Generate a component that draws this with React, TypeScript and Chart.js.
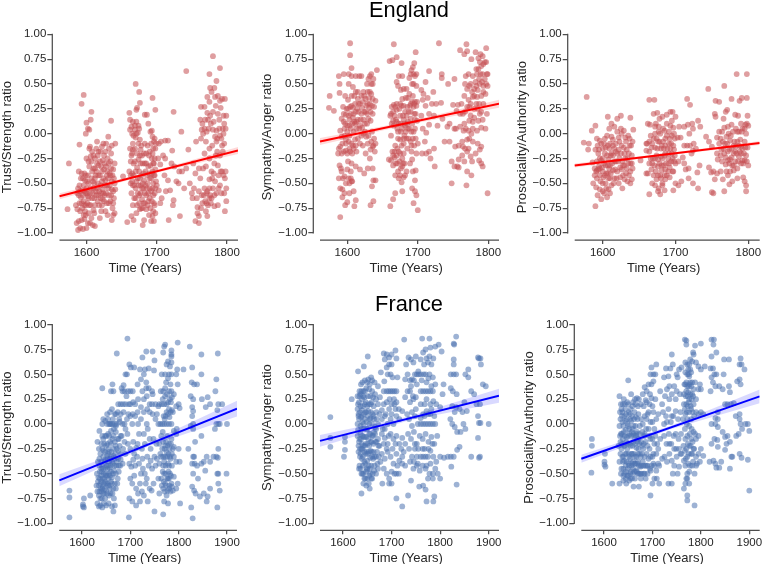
import React, { useEffect, useRef } from "react";
import { Chart, registerables } from "chart.js";
Chart.register(...registerables);

type P = [number, number];

const yTickValues = [-1, -0.75, -0.5, -0.25, 0, 0.25, 0.5, 0.75, 1];
const englandYearTicks = [1600, 1700, 1800];
const franceYearTicks = [1600, 1700, 1800, 1900];

const englandTrust: P[] = [
[1575,-.3],[1593,.3],[1596,.39],[1600,.11],[1599,0],[1602,.05],[1604,.04],[1607,.22],[1606,.14],[1590,-.11],[1635,.13],[1631,-.03],[1615,-.08],[1573,-.76],
[1586,-.9],[1588,-.97],[1589,-.88],[1591,-.95],[1593,-.87],[1595,-.96],[1597,-.86],[1600,-.95],[1598,-.78],[1585,-.72],[1587,-.76],[1590,-.7],[1592,-.64],[1594,-.75],[1596,-.68],[1599,-.6],[1601,-.7],[1603,-.8],[1605,-.9],[1607,-.85],[1609,-.92],[1612,-.93],[1610,-.77],[1588,-.55],[1590,-.52],[1592,-.45],[1589,-.38],[1593,-.4],[1596,-.52],[1598,-.47],[1600,-.55],[1602,-.42],[1604,-.33],[1606,-.23],[1605,-.13],[1607,-.28],[1603,-.5],[1605,-.6],[1608,-.65],[1610,-.55],[1612,-.45],[1610,-.35],[1612,-.25],[1614,-.15],[1616,-.22],[1614,-.38],[1616,-.5],[1614,-.62],[1612,-.72],[1616,-.68],[1618,-.58],[1619,-.42],[1621,-.33],[1620,-.18],[1624,-.1],[1623,-.27],[1622,-.48],[1620,-.65],[1619,-.85],[1621,-.78],[1624,-.6],[1626,-.52],[1625,-.36],[1627,-.18],[1628,-.1],[1630,-.25],[1629,-.42],[1628,-.6],[1627,-.78],[1630,-.82],[1632,-.7],[1631,-.55],[1633,-.4],[1632,-.15],[1634,-.28],[1636,-.12],[1636,-.48],[1635,-.62],[1637,-.75],[1636,-.87],[1638,-.82],[1640,-.8],[1639,-.65],[1640,-.5],[1638,-.36],[1640,-.3],[1641,-.1],[1641,-.56],[1600,-.25],[1604,-.15],[1602,-.63],[1606,-.72],[1609,-.48],[1597,-.58],[1594,-.57],[1617,-.32],[1622,-.72],[1625,-.68],
[1652,-.43],[1658,-.89],[1664,-.83],[1667,-.87],[1680,-.92],[1682,-.87],[1692,-.88],[1689,-.82],[1661,.21],[1670,.5],[1675,.42],[1676,.31],[1672,.26],[1671,.24],[1694,.36],[1698,.24],[1683,.19],[1686,.19],
[1662,.14],[1664,.07],[1666,.12],[1669,.04],[1671,.12],[1674,.08],[1662,.04],[1665,.0],[1667,-.02],[1670,-.04],[1673,.01],[1676,-.06],[1662,-.15],[1664,-.22],[1663,-.28],[1661,-.38],[1665,-.4],[1667,-.3],[1669,-.15],[1672,-.2],[1674,-.1],[1677,-.16],[1679,-.22],[1677,-.3],[1675,-.38],[1673,-.45],[1670,-.38],[1666,-.52],[1664,-.6],[1663,-.5],[1668,-.65],[1670,-.55],[1672,-.72],[1675,-.62],[1677,-.52],[1680,-.5],[1678,-.75],[1681,-.7],[1683,-.6],[1681,-.4],[1683,-.3],[1685,-.2],[1683,-.1],[1688,.1],[1691,.02],[1694,-.03],[1696,-.08],[1695,-.15],[1693,-.25],[1696,-.3],[1694,-.38],[1697,-.42],[1695,-.5],[1692,-.58],[1690,-.45],[1688,-.33],[1687,-.12],[1690,-.18],[1686,-.55],[1688,-.68],[1691,-.75],[1695,-.78],[1697,-.72],[1695,-.62],[1698,-.55],[1694,-.83],[1696,-.88],[1698,-.15],[1697,-.05],[1699,-.1],[1676,-.76],[1671,-.8],[1666,-.72],[1685,-.76],
[1703,-.1],[1702,-.25],[1705,-.31],[1700,-.52],[1703,-.57],[1707,-.65],[1709,-.22],[1712,-.25],[1706,-.08],[1712,-.07],[1716,-.07],[1705,-.7],[1713,-.58],[1717,-.87],[1719,-.57],[1711,-.42],[1716,-.47],[1722,-.17],[1721,-.3],[1725,-.33],[1724,-.67],[1723,-.72],[1728,-.48],[1732,-.38],[1731,-.5],[1733,-.83],[1739,-.55],[1742,-.35],[1736,-.38],[1724,.22],[1742,.63],[1735,.02],[1745,-.16],[1747,-.5],[1750,-.6],[1753,-.55],[1751,-.65],[1755,-.4],[1752,-.3],[1756,-.08],[1757,-.65],[1760,-.35],
[1780,.78],[1790,.66],[1775,.6],[1785,.53],[1782,.46],[1778,.42],[1776,.46],[1772,.37],[1775,.32],[1768,.27],[1772,.21],[1763,.27],[1762,.14],[1765,.1],[1768,.05],[1771,.02],[1773,.14],[1776,.18],[1780,.22],[1783,.37],[1787,.38],[1790,.33],[1793,.35],[1797,.35],[1791,.26],[1795,.18],[1799,.18],[1798,.05],[1795,0],[1792,-.05],[1796,-.1],[1798,-.38],[1794,-.18],[1790,-.02],[1785,.03],[1783,-.03],[1780,.04],[1777,.1],[1763,-.05],[1766,0],[1770,-.08],[1775,-.15],[1779,-.12],[1785,-.08],[1786,-.18],[1782,-.3],[1778,-.38],[1775,-.46],[1770,-.33],[1766,-.35],[1762,-.45],[1760,-.58],[1764,-.62],[1768,-.55],[1772,-.58],[1775,-.65],[1777,-.7],[1780,-.55],[1783,-.48],[1785,-.6],[1788,-.42],[1790,-.52],[1793,-.38],[1797,-.45],[1799,-.55],[1796,-.6],[1799,-.68],[1797,-.78],[1787,-.72],[1782,-.73],[1770,-.78],[1758,-.74],[1758,-.8],[1760,-.83],[1763,-.75],[1755,-.88],[1760,-.9],[1772,-.83],[1790,-.22],[1793,-.12],[1775,-.25],[1768,-.2],[1771,-.6],
];
const englandTrustDense: P[] = [
[1587,-.6],[1589,-.62],[1591,-.58],[1593,-.7],[1595,-.62],[1597,-.72],[1599,-.82],[1601,-.6],[1603,-.65],[1604,-.72],[1606,-.55],[1607,-.45],[1608,-.38],[1609,-.6],[1611,-.65],[1611,-.5],[1613,-.58],[1613,-.42],[1615,-.55],[1615,-.3],[1617,-.62],[1617,-.42],[1618,-.72],[1619,-.28],[1620,-.52],[1621,-.6],[1622,-.38],[1623,-.56],[1623,-.66],[1624,-.45],[1625,-.22],[1626,-.3],[1626,-.62],[1627,-.47],[1628,-.33],[1629,-.52],[1629,-.7],[1630,-.38],[1631,-.45],[1632,-.3],[1632,-.62],[1633,-.52],[1634,-.42],[1634,-.68],[1635,-.35],[1635,-.2],[1636,-.56],[1637,-.42],[1638,-.58],[1638,-.7],[1639,-.45],[1599,-.42],[1601,-.48],[1595,-.45],[1591,-.78],[1597,-.4],[1603,-.28],[1608,-.18],[1610,-.22],[1612,-.35],[1599,-.72],[1596,-.82],[1602,-.9],[1611,-.8],[1617,-.18],[1622,-.13],
[1663,-.42],[1665,-.48],[1665,-.2],[1666,-.1],[1667,-.42],[1668,-.52],[1669,-.28],[1670,-.65],[1671,-.48],[1672,-.34],[1673,-.6],[1674,-.52],[1674,-.26],[1675,-.7],[1676,-.45],[1676,-.22],[1677,-.6],[1678,-.42],[1678,-.12],[1679,-.55],[1679,-.66],[1680,-.3],[1680,-.75],[1681,-.55],[1682,-.47],[1682,-.2],[1683,-.7],[1684,-.38],[1684,-.52],[1685,-.62],[1685,-.3],[1686,-.42],[1687,-.5],[1687,-.72],[1688,-.6],[1689,-.4],[1689,-.22],[1690,-.55],[1690,-.65],[1691,-.32],[1692,-.45],[1692,-.1],[1693,-.4],[1693,-.68],[1694,-.55],[1694,-.2],[1695,-.3],[1696,-.42],[1696,-.7],[1697,-.25],[1697,-.6],[1698,-.8],[1698,-.36],[1699,-.48],[1669,.08],[1666,-.16],[1671,.0],[1675,.05],[1693,.03],
[1765,-.7],[1767,-.62],[1769,-.68],[1771,-.7],[1773,-.72],[1775,-.55],[1776,-.62],[1778,-.65],[1779,-.45],[1781,-.4],[1782,-.62],[1784,-.22],[1786,-.05],[1787,-.32],[1788,-.55],[1789,.05],[1791,-.38],[1792,-.6],[1794,.05],[1795,-.42],[1796,.1],[1784,.28],[1787,.2],[1789,.14],[1781,.12],[1774,.05],[1769,.14],[1764,.04],
];

const englandSympathy: P[] = [
[1575,.38],[1574,.26],[1581,.23],[1604,.91],[1604,.79],[1606,.66],[1590,-.84],[1597,-.72],[1600,-.69],[1610,-.73],[1612,-.67],[1633,-.72],[1637,-.68],[1642,.64],[1640,-.47],[1636,-.35],
[1588,.58],[1589,.5],[1595,.6],[1589,.41],[1597,.38],[1594,.27],[1602,.5],[1602,.6],[1606,.58],[1608,.47],[1612,.58],[1617,.58],[1610,.38],[1606,.28],[1601,.25],[1598,.19],[1592,.15],[1590,.03],[1596,.05],[1603,.14],[1608,.16],[1612,.22],[1616,.3],[1620,.38],[1615,.42],[1620,.58],[1624,.38],[1628,.5],[1632,.58],[1634,.6],[1636,.5],[1632,.42],[1629,.3],[1626,.22],[1623,.14],[1618,.08],[1613,.05],[1609,.02],[1603,-.02],[1598,-.06],[1593,-.1],[1588,-.15],[1587,-.2],[1592,-.2],[1598,-.17],[1603,-.15],[1608,-.12],[1613,-.18],[1618,-.1],[1623,0],[1628,.1],[1633,.13],[1638,.27],[1640,.33],[1636,.2],[1631,.26],[1627,-.03],[1622,-.12],[1626,-.2],[1632,-.25],[1636,-.13],[1640,-.1],[1638,-.05],[1635,.02],[1629,-.1],[1633,-.16],[1639,-.18],[1618,-.36],[1612,-.33],[1624,-.4],[1629,-.35],[1606,-.3],[1601,-.28],[1589,-.32],[1592,-.38],[1596,-.43],[1588,-.45],[1593,-.56],[1598,-.5],[1602,-.45],[1607,-.48],[1605,-.38],[1609,-.58],[1603,-.6],[1596,-.6],[1590,-.55],[1593,-.64],[1606,-.48],[1635,-.53],[1637,-.47],[1601,.34],[1615,.14],[1621,.26],[1611,.1],[1600,.08],[1595,.12],[1605,.2],
[1666,.9],[1660,.73],[1664,.74],[1670,.77],[1677,.71],[1697,.82],[1695,.71],[1693,.67],[1691,.64],[1730,.91],[1678,.58],[1673,.58],[1670,.52],[1672,.48],[1676,.44],[1680,.45],[1683,.36],[1678,.35],[1690,.6],[1694,.6],[1698,.6],[1692,.5],[1698,.48],[1688,.4],[1693,.38],[1696,.32],[1690,.3],[1685,.27],[1680,.28],[1675,.3],[1670,.3],[1666,.29],[1663,.27],[1661,.18],[1665,.13],[1670,.12],[1675,.18],[1680,.14],[1685,.1],[1690,.15],[1695,.2],[1699,.13],[1696,.05],[1691,.02],[1686,.05],[1681,-.02],[1676,.02],[1671,.05],[1666,.08],[1662,-.02],[1675,-.06],[1680,-.1],[1671,-.15],[1664,-.18],[1667,-.24],[1662,-.27],[1659,-.26],[1665,-.32],[1670,-.22],[1675,-.2],[1678,-.25],[1681,-.3],[1676,-.35],[1671,-.3],[1668,-.42],[1673,-.45],[1677,-.49],[1680,-.44],[1684,-.38],[1680,-.2],[1685,-.15],[1690,-.08],[1695,-.12],[1700,-.1],[1698,-.2],[1692,-.26],[1697,-.37],[1693,-.38],[1691,-.18],[1696,-.47],[1692,-.55],[1696,-.58],[1698,-.62],[1694,-.7],[1700,-.77],[1678,-.58],[1668,-.6],[1665,-.66],[1661,-.73],[1689,-.3],[1682,.08],[1687,.22],
[1705,.44],[1708,.4],[1711,.52],[1714,.36],[1716,.63],[1707,.34],[1711,.28],[1720,.3],[1722,.42],[1726,.3],[1733,.31],[1734,.6],[1734,.56],[1743,.5],[1705,.18],[1707,.05],[1712,.01],[1716,.2],[1716,.09],[1723,.18],[1728,.08],[1735,.15],[1745,.1],[1742,.07],[1712,-.2],[1706,-.2],[1716,-.18],[1718,-.25],[1723,-.15],[1724,-.33],[1710,-.08],[1738,-.08],[1745,-.08],[1748,-.5],[1748,-.28],[1752,.55],[1750,.29],[1755,.23],[1752,.05],[1753,-.13],[1756,-.33],[1752,-.33],[1758,-.34],
[1769,.9],[1760,.84],[1766,.8],[1770,.83],[1776,.75],[1782,.82],[1789,.8],[1792,.78],[1797,.86],[1795,.72],[1786,.76],[1790,.68],[1798,.6],[1792,.6],[1784,.6],[1778,.58],[1772,.6],[1768,.58],[1767,.5],[1775,.5],[1783,.48],[1788,.5],[1793,.48],[1799,.48],[1796,.4],[1790,.38],[1784,.37],[1778,.37],[1772,.34],[1766,.38],[1762,.3],[1757,.29],[1760,.2],[1767,.22],[1773,.27],[1780,.25],[1787,.3],[1793,.3],[1798,.2],[1792,.14],[1786,.13],[1780,.16],[1773,.13],[1766,.1],[1760,.07],[1754,.05],[1765,.03],[1772,.03],[1778,.05],[1784,.03],[1790,.06],[1796,.05],[1770,-.06],[1764,-.13],[1758,-.12],[1772,-.15],[1778,-.08],[1785,-.1],[1790,-.13],[1782,-.2],[1775,-.23],[1763,-.22],[1758,-.26],[1770,-.38],[1776,-.42],[1777,-.28],[1787,-.27],[1790,-.3],[1792,-.33],[1769,-.52],[1799,-.6],[1766,-.28],[1788,-.16],
];
const englandSympathyDense: P[] = [
[1595,.2],[1597,.1],[1599,.25],[1600,.02],[1602,.18],[1603,.08],[1604,.27],[1605,.05],[1606,.38],[1607,.1],[1608,.26],[1609,.2],[1610,.12],[1611,.3],[1612,.42],[1613,.12],[1614,.25],[1615,.35],[1616,.22],[1617,.05],[1618,.3],[1619,.14],[1620,.2],[1621,.06],[1622,.32],[1623,.42],[1624,.22],[1625,.1],[1626,.35],[1627,.28],[1628,.2],[1629,.42],[1630,.15],[1631,.36],[1632,.3],[1633,.22],[1634,.4],[1635,.28],[1636,.35],[1637,.55],[1634,.5],[1630,.55],[1598,-.1],[1600,-.2],[1602,-.08],[1604,-.18],[1606,-.1],[1607,-.2],[1609,-.15],[1611,-.06],[1612,-.12],[1595,-.18],[1590,-.13],[1596,-.02],[1592,-.03],[1615,-.05],[1620,-.02],[1625,.02],[1630,-.02],[1634,-.08],[1637,-.12],[1600,-.36],[1605,-.45],[1603,-.5],[1591,-.35],[1594,-.45],
[1662,.2],[1663,.1],[1665,.22],[1667,.18],[1668,.27],[1669,.14],[1670,.24],[1672,.02],[1673,.1],[1674,.25],[1676,.1],[1677,.28],[1678,.05],[1679,.18],[1681,.1],[1682,.22],[1683,.02],[1684,.18],[1686,.12],[1688,.05],[1689,.28],[1690,.22],[1692,.32],[1694,.27],[1695,.3],[1696,.14],[1697,.2],[1698,.28],[1699,.32],[1692,.1],[1694,.02],[1697,-.05],[1684,-.05],[1680,-.05],[1677,-.12],[1673,-.18],[1672,-.05],[1668,-.12],[1667,-.18],[1669,-.3],[1672,-.38],[1675,-.42],[1678,-.33],[1682,-.42],[1679,-.3],[1674,-.28],[1665,-.22],[1691,-.12],[1693,-.05],[1687,-.05],[1684,.45],[1686,.36],[1694,.5],[1696,.58],[1688,.56],
[1770,.45],[1773,.48],[1777,.42],[1780,.45],[1782,.52],[1785,.44],[1787,.55],[1789,.6],[1791,.52],[1793,.42],[1795,.55],[1797,.5],[1799,.6],[1797,.72],[1793,.7],[1788,.72],[1786,.65],[1783,.65],[1780,.38],[1783,.3],[1785,.25],[1788,.2],[1790,.22],[1775,.3],[1770,.27],[1764,.2],[1775,.18],[1778,.12],[1768,.05],[1763,-.08],[1767,-.15],[1770,-.18],[1773,-.05],[1776,.0],
];

const englandProsocial: P[] = [
[1578,.37],[1574,-.09],[1581,-.1],[1580,-.16],[1590,.08],[1585,.03],[1590,-.73],[1607,.17],[1625,.18],[1620,.15],[1638,.16],[1642,.04],
[1592,-.05],[1596,-.07],[1590,-.16],[1594,-.2],[1586,-.29],[1589,-.35],[1592,-.28],[1595,-.33],[1598,-.27],[1600,-.15],[1603,-.05],[1606,-.02],[1603,-.2],[1607,-.12],[1610,-.1],[1609,.05],[1612,.1],[1616,.07],[1614,-.06],[1612,-.2],[1608,-.26],[1604,-.32],[1600,-.38],[1596,-.42],[1592,-.45],[1587,-.5],[1591,-.54],[1596,-.56],[1593,-.62],[1598,-.66],[1602,-.6],[1606,-.64],[1608,-.56],[1604,-.5],[1610,-.45],[1612,-.52],[1616,-.45],[1614,-.37],[1618,-.28],[1620,-.2],[1618,-.1],[1622,-.04],[1625,.05],[1629,.03],[1626,-.12],[1623,-.25],[1620,-.38],[1624,-.44],[1627,-.55],[1622,-.5],[1630,-.46],[1633,-.35],[1628,-.32],[1630,-.2],[1632,-.08],[1635,-.02],[1637,-.12],[1634,-.25],[1638,-.3],[1636,-.42],[1640,-.46],[1638,-.5],[1640,-.22],[1641,-.08],[1641,-.35],[1600,-.5],[1607,-.4],[1614,-.22],[1616,-.15],[1610,-.32],[1626,-.36],[1602,-.1],
[1652,-.27],[1660,-.1],[1664,.34],[1671,.34],[1660,-.4],[1664,-.61],[1662,.1],[1665,.09],[1670,.2],[1675,.21],[1678,.15],[1673,.1],[1677,.07],[1682,.17],[1688,.19],[1693,.22],[1696,.22],[1700,.17],[1695,.13],[1688,.1],[1683,.05],[1679,.0],[1672,.0],[1666,-.02],[1661,-.1],[1664,-.18],[1668,-.1],[1672,-.14],[1676,-.08],[1681,-.12],[1686,-.05],[1691,.02],[1697,.06],[1699,-.05],[1694,-.1],[1698,-.16],[1691,-.2],[1686,-.2],[1680,-.23],[1674,-.22],[1669,-.25],[1664,-.3],[1662,-.4],[1667,-.36],[1671,-.32],[1676,-.33],[1681,-.32],[1686,-.36],[1691,-.3],[1696,-.25],[1700,-.3],[1697,-.38],[1692,-.44],[1686,-.46],[1680,-.45],[1674,-.46],[1668,-.5],[1672,-.52],[1677,-.55],[1682,-.5],[1685,-.57],[1679,-.61],[1676,-.58],[1697,-.57],[1704,-.52],[1700,-.5],[1660,-.17],[1684,-.15],
[1705,.07],[1703,-.04],[1707,-.04],[1710,-.24],[1712,-.3],[1704,-.28],[1708,-.48],[1716,.35],[1720,.29],[1712,.07],[1717,.09],[1723,.1],[1724,.05],[1719,.0],[1731,.13],[1734,.07],[1712,-.12],[1716,-.12],[1720,-.12],[1725,-.1],[1724,-.17],[1722,-.2],[1714,-.36],[1718,-.35],[1718,-.45],[1724,-.5],[1730,-.39],[1731,-.55],[1728,-.15],[1733,-.32],[1745,.45],[1746,-.34],[1742,-.03],[1746,-.08],[1749,-.39],[1750,-.59],[1752,-.6],[1754,-.46],[1754,.2],[1760,.32],[1755,.33],
[1767,.48],[1784,.6],[1798,.6],[1777,.35],[1791,.36],[1798,.36],[1788,.33],[1771,.24],[1769,.22],[1766,.15],[1782,.19],[1786,.18],[1790,.1],[1799,.18],[1796,.09],[1800,.08],[1755,.17],[1750,-.13],[1757,-.04],[1760,.02],[1764,.02],[1767,.06],[1772,.07],[1777,.09],[1783,.05],[1787,.02],[1792,.05],[1797,0],[1760,-.1],[1765,-.08],[1770,-.03],[1775,-.07],[1780,-.12],[1785,-.08],[1790,-.13],[1795,-.08],[1799,-.14],[1757,-.2],[1762,-.22],[1767,-.2],[1772,-.18],[1777,-.24],[1782,-.18],[1787,-.23],[1792,-.27],[1797,-.22],[1758,-.26],[1764,-.28],[1769,-.31],[1774,-.3],[1780,-.32],[1785,-.35],[1790,-.3],[1800,-.32],[1770,-.38],[1775,-.38],[1780,-.37],[1757,-.4],[1752,-.38],[1762,-.38],[1765,-.46],[1772,-.42],[1778,-.48],[1785,-.45],[1793,-.44],[1795,-.48],[1797,-.52],[1797,-.58],[1774,-.51],[1767,-.58],
];
const englandProsocialDense: P[] = [
[1589,-.42],[1591,-.38],[1593,-.12],[1594,-.36],[1595,-.16],[1596,-.25],[1597,-.48],[1598,-.1],[1599,-.34],[1600,-.25],[1601,-.44],[1602,-.3],[1603,-.42],[1604,-.14],[1605,-.4],[1605,-.55],[1606,-.22],[1607,-.32],[1608,-.45],[1609,-.15],[1609,-.35],[1610,-.6],[1611,-.22],[1611,-.4],[1612,-.03],[1613,-.3],[1614,-.12],[1615,-.5],[1616,-.28],[1617,-.36],[1618,-.18],[1619,-.45],[1620,.02],[1621,-.28],[1622,-.16],[1623,-.08],[1624,-.34],[1625,-.2],[1626,.0],[1627,-.28],[1628,-.42],[1629,-.14],[1630,-.32],[1631,-.25],[1631,-.04],[1632,-.4],[1633,-.16],[1634,-.48],[1635,-.3],[1636,-.2],[1637,-.05],[1638,-.38],[1639,-.12],[1640,-.3],[1600,-.58],[1596,-.35],[1592,-.37],
[1664,-.08],[1666,-.25],[1667,-.14],[1668,-.3],[1670,-.05],[1670,-.42],[1672,-.25],[1673,-.38],[1674,-.05],[1675,-.15],[1676,-.26],[1676,-.42],[1678,-.3],[1678,-.08],[1679,-.42],[1680,-.15],[1681,-.37],[1682,-.25],[1682,-.52],[1683,-.08],[1684,-.32],[1685,-.22],[1685,-.42],[1686,-.12],[1687,-.3],[1688,-.02],[1688,-.42],[1689,-.15],[1690,-.25],[1690,-.38],[1691,-.1],[1692,-.05],[1692,-.34],[1693,-.15],[1693,.08],[1694,-.28],[1695,-.02],[1695,-.2],[1696,-.38],[1697,-.12],[1698,-.28],[1698,.0],[1699,-.22],[1672,.07],[1677,.02],[1685,.03],
[1762,-.05],[1763,-.16],[1766,-.15],[1768,-.1],[1769,-.24],[1771,-.1],[1772,-.27],[1773,.0],[1774,-.16],[1775,-.26],[1776,-.02],[1777,-.15],[1778,-.32],[1779,.02],[1780,-.2],[1781,-.08],[1782,-.28],[1783,-.13],[1784,-.2],[1785,.02],[1786,-.28],[1787,-.12],[1788,-.18],[1789,-.06],[1790,-.2],[1791,.02],[1792,-.15],[1793,-.3],[1794,-.2],[1795,-.27],[1796,-.14],[1798,-.28],[1798,.1],[1795,.05],
];

const franceTrust: P[] = [
[1574,-.67],[1574,-.74],[1574,-.94],[1602,-.81],[1604,-.84],[1602,-.83],[1604,-.75],[1617,-.72],[1697,-.94],[1750,-.88],[1768,-.91],[1829,-.95],[1826,-.84],[1880,-.84],[1672,.71],[1694,.86],[1770,.78],[1772,.8],[1798,.82],[1823,.78],[1847,.7],[1881,.71],
[1632,-.8],[1635,-.83],[1638,-.82],[1642,-.84],[1645,-.8],[1650,-.82],[1655,-.8],[1662,-.83],[1665,-.88],[1668,-.82],[1630,-.62],[1632,-.68],[1635,-.72],[1638,-.6],[1640,-.68],[1643,-.63],[1646,-.7],[1648,-.58],[1650,-.67],[1653,-.6],[1656,-.72],[1658,-.65],[1660,-.58],[1663,-.7],[1666,-.75],[1670,-.65],[1631,-.5],[1634,-.54],[1637,-.48],[1640,-.52],[1642,-.43],[1645,-.5],[1648,-.44],[1650,-.52],[1653,-.45],[1656,-.5],[1659,-.42],[1662,-.54],[1666,-.47],[1670,-.5],[1674,-.55],[1633,-.38],[1636,-.35],[1640,-.38],[1644,-.33],[1648,-.36],[1652,-.32],[1656,-.38],[1660,-.33],[1664,-.4],[1668,-.35],[1672,-.38],[1676,-.42],[1680,-.36],[1684,-.4],[1635,-.25],[1640,-.2],[1645,-.27],[1650,-.22],[1655,-.25],[1660,-.2],[1665,-.25],[1670,-.22],[1675,-.27],[1680,-.3],[1685,-.25],[1690,-.3],[1632,-.18],[1636,-.07],[1642,-.12],[1648,-.12],[1654,-.1],[1660,-.07],[1665,-.12],[1670,-.08],[1676,-.15],[1682,-.12],[1688,-.18],[1695,-.2],[1652,0],[1656,0],[1660,0],[1663,0],[1672,0],[1678,.02],[1684,0],[1690,-.05],[1644,.05],[1652,.1],[1658,.12],[1662,.15],[1668,.1],[1674,.12],[1680,.1],[1686,.12],[1693,.05],[1700,.08],[1660,.33],[1665,.33],[1682,.36],[1686,.39],[1690,.5],[1693,.5],[1695,.33],[1700,.33],[1705,.33],[1698,.6],[1701,.57],[1708,.57],[1700,.2],[1697,.2],[1706,.22],[1642,.36],[1663,.4],
[1698,-.4],[1702,-.43],[1706,-.36],[1710,-.42],[1714,-.33],[1718,-.4],[1722,-.5],[1726,-.45],[1730,-.5],[1734,-.55],[1738,-.42],[1742,-.37],[1700,-.55],[1704,-.6],[1708,-.52],[1712,-.65],[1716,-.7],[1720,-.6],[1724,-.68],[1728,-.72],[1732,-.6],[1736,-.78],[1740,-.65],[1744,-.67],[1748,-.6],[1698,-.75],[1704,-.78],[1712,-.82],[1720,-.78],[1700,-.25],[1706,-.18],[1712,-.24],[1718,-.1],[1724,-.25],[1730,-.2],[1736,-.05],[1742,-.25],[1748,-.15],[1754,-.2],[1704,0],[1710,.08],[1716,.0],[1722,.05],[1728,.12],[1734,.0],[1740,.12],[1746,.1],[1752,.05],[1758,.0],[1710,.2],[1716,.25],[1722,.17],[1728,.25],[1734,.28],[1740,.2],[1746,.3],[1752,.2],[1758,.18],[1715,.4],[1722,.45],[1728,.5],[1733,.42],[1738,.36],[1745,.33],[1720,.55],[1730,.55],[1725,.67],[1733,.73],[1746,.73],[1750,.64],[1738,.56],[1749,.54],
[1760,-.7],[1764,-.55],[1768,-.65],[1770,-.5],[1772,-.6],[1775,-.72],[1778,-.55],[1780,-.65],[1782,-.5],[1785,-.6],[1788,-.67],[1790,-.53],[1795,-.65],[1798,-.6],[1803,-.8],[1778,-.8],[1770,-.78],[1760,-.4],[1764,-.33],[1768,-.42],[1772,-.33],[1775,-.28],[1778,-.4],[1782,-.33],[1786,-.42],[1790,-.33],[1795,-.38],[1802,-.38],[1760,-.2],[1764,-.12],[1768,-.18],[1772,-.22],[1776,-.12],[1780,-.2],[1785,-.15],[1790,-.23],[1795,-.1],[1800,-.25],[1762,0],[1766,0],[1770,0],[1775,0],[1780,0],[1785,0],[1790,-.07],[1796,-.05],[1760,.2],[1765,.2],[1770,.2],[1775,.2],[1780,.15],[1784,.22],[1788,.12],[1795,.18],[1802,.16],[1763,.33],[1768,.33],[1772,.36],[1780,.33],[1785,.33],[1790,.3],[1798,.4],[1765,.5],[1772,.5],[1778,.46],[1785,.5],[1795,.5],[1797,.55],[1775,.6],[1782,.58],[1785,.7],[1785,.74],[1778,.63],[1768,.72],[1800,.2],
[1820,-.25],[1830,-.33],[1832,-.33],[1834,-.18],[1828,-.4],[1833,-.4],[1838,-.42],[1847,-.4],[1852,-.38],[1858,-.33],[1865,-.38],[1872,-.33],[1878,-.33],[1881,-.34],[1882,-.25],[1855,-.47],[1830,-.5],[1840,-.55],[1880,-.5],[1882,-.5],[1899,-.5],[1882,-.6],[1828,-.63],[1832,-.67],[1835,-.7],[1844,-.73],[1852,-.7],[1858,-.78],[1865,-.65],[1885,-.67],[1860,-.73],[1830,-.05],[1825,-.02],[1830,0],[1828,.08],[1847,-.12],[1875,-.05],[1878,0],[1882,0],[1885,0],[1900,0],[1830,.13],[1828,.17],[1848,.25],[1860,.27],[1856,.17],[1865,.2],[1880,.14],[1882,.2],[1890,.2],[1825,.28],[1830,.25],[1827,.42],[1832,.4],[1838,.4],[1828,.57],[1847,.5],[1876,.33],[1878,.45],[1810,.55],
];
const franceTrustDense: P[] = [
[1633,-.58],[1635,-.62],[1636,-.68],[1637,-.55],[1638,-.75],[1639,-.65],[1640,-.58],[1641,-.75],[1641,-.48],[1642,-.65],[1643,-.55],[1644,-.7],[1644,-.45],[1645,-.6],[1646,-.55],[1647,-.65],[1647,-.38],[1648,-.75],[1649,-.5],[1650,-.6],[1651,-.42],[1652,-.7],[1652,-.52],[1653,-.35],[1654,-.62],[1654,-.42],[1655,-.55],[1656,-.28],[1657,-.62],[1657,-.44],[1658,-.35],[1658,-.52],[1659,-.7],[1660,-.48],[1661,-.28],[1662,-.6],[1662,-.38],[1663,-.15],[1664,-.5],[1665,-.65],[1665,-.32],[1666,-.05],[1667,-.42],[1668,-.6],[1668,-.18],[1669,-.3],[1670,-.02],[1671,-.42],[1672,-.25],[1673,-.6],[1674,-.15],[1675,-.35],[1676,-.48],[1677,.05],[1678,-.22],[1679,-.42],[1680,-.12],[1636,-.42],[1638,-.3],[1640,-.45],[1642,-.25],[1644,-.15],[1646,-.2],[1648,-.28],[1650,-.12],[1652,-.2],[1654,-.3],[1656,-.12],[1658,-.18],[1642,0],[1648,.03],[1654,.05],[1658,0],[1664,.05],[1668,0],[1670,.1],[1675,.2],[1680,.2],[1685,.2],[1690,.2],[1684,.33],[1688,.33],[1692,.28],[1696,.1],[1688,0],[1694,-.1],
[1765,-.62],[1767,-.48],[1769,-.58],[1771,-.68],[1773,-.5],[1774,-.62],[1776,-.55],[1777,-.67],[1779,-.48],[1780,-.55],[1781,-.62],[1783,-.68],[1784,-.52],[1786,-.63],[1762,-.3],[1766,-.25],[1768,-.33],[1770,-.38],[1771,-.25],[1773,-.42],[1774,-.18],[1776,-.33],[1777,-.22],[1779,-.3],[1780,-.42],[1781,-.25],[1783,-.35],[1784,-.2],[1786,-.3],[1788,-.25],[1767,-.08],[1769,.08],[1771,.05],[1773,.08],[1775,.12],[1778,.1],[1781,.07],[1783,.12],[1786,.14],[1767,.25],[1772,.28],[1776,.3],[1778,.22],[1782,.25],[1786,.27],[1774,.42],[1780,.5],[1783,.4],[1785,.62],[1785,.68],
[1708,-.3],[1715,-.2],[1725,-.35],[1735,-.33],[1745,-.45],[1752,-.42],[1758,-.55],[1755,-.35],[1750,-.33],[1740,-.15],[1728,-.1],[1715,.12],[1705,.1],[1745,.2],[1755,.1],[1735,.15],[1725,.33],[1733,.36],
];

const franceSympathy: P[] = [
[1574,.07],[1574,-.23],[1574,-.14],[1602,-.33],[1604,-.26],[1604,-.18],[1604,-.13],[1618,.25],[1631,.53],[1643,.58],[1630,.28],[1638,-.7],[1655,-.65],[1651,.68],[1681,-.6],[1678,.52],[1710,-.75],[1722,-.83],[1734,-.72],[1726,.85],[1763,.86],[1778,.86],[1833,.88],[1828,.81],[1829,.8],
[1630,.15],[1633,.22],[1636,.3],[1639,.25],[1642,.33],[1645,.2],[1648,.12],[1651,.28],[1654,.35],[1657,.2],[1660,.33],[1663,.18],[1666,.3],[1669,.12],[1630,0],[1633,.05],[1636,-.02],[1639,.08],[1642,0],[1645,.05],[1648,-.05],[1651,.08],[1654,0],[1657,.06],[1660,.0],[1663,.08],[1666,-.03],[1669,.05],[1672,0],[1675,.1],[1630,-.12],[1633,-.18],[1636,-.1],[1639,-.2],[1642,-.13],[1645,-.22],[1648,-.13],[1651,-.2],[1654,-.1],[1657,-.18],[1660,-.12],[1663,-.2],[1666,-.1],[1669,-.18],[1672,-.15],[1675,-.22],[1632,-.28],[1635,-.33],[1638,-.25],[1641,-.33],[1644,-.38],[1647,-.3],[1650,-.37],[1653,-.28],[1656,-.34],[1659,-.28],[1662,-.35],[1665,-.42],[1668,-.33],[1671,-.4],[1674,-.33],[1677,-.38],[1633,-.45],[1640,-.5],[1644,-.55],[1647,-.48],[1650,-.55],[1653,-.6],[1656,-.5],[1660,-.55],[1664,-.47],[1668,-.5],[1672,-.45],[1645,.44],[1640,.42],[1652,.45],[1658,.47],[1665,.42],[1672,.38],[1642,-.6],[1648,-.62],[1632,.1],
[1684,.33],[1690,.33],[1694,.33],[1698,.33],[1702,.33],[1706,.33],[1710,.33],[1684,.2],[1690,.22],[1695,.15],[1700,.2],[1705,.25],[1710,.22],[1715,.15],[1680,.05],[1686,.08],[1692,.0],[1698,.05],[1704,.0],[1710,.08],[1716,.05],[1722,.13],[1680,-.1],[1686,-.14],[1692,-.2],[1698,-.1],[1704,-.15],[1710,-.12],[1716,-.2],[1722,-.14],[1728,-.2],[1680,-.3],[1686,-.35],[1692,-.28],[1698,-.33],[1704,-.4],[1710,-.3],[1716,-.37],[1722,-.33],[1728,-.42],[1684,-.45],[1690,-.5],[1695,-.55],[1700,-.48],[1706,-.5],[1710,-.5],[1715,-.5],[1722,-.4],[1695,-.6],[1700,-.6],[1685,.43],[1692,.5],[1698,.5],[1702,.47],[1712,.47],[1690,.57],[1695,.6],[1700,.6],[1686,.65],[1695,.67],[1700,.7],[1708,.74],[1710,.66],[1684,.71],[1690,.7],
[1728,.27],[1733,.33],[1738,.33],[1744,.28],[1750,.27],[1728,.45],[1733,.5],[1738,.44],[1742,.45],[1748,.5],[1752,.5],[1756,.5],[1760,.5],[1730,.6],[1735,.67],[1740,.65],[1745,.62],[1750,.68],[1755,.53],[1760,.65],[1732,.1],[1736,.05],[1742,.12],[1748,.08],[1754,0],[1760,0],[1765,0],[1770,0],[1775,0],[1780,0],[1785,0],[1790,0],[1734,-.1],[1740,-.15],[1746,-.08],[1752,-.2],[1758,-.12],[1764,-.15],[1770,-.1],[1776,-.18],[1782,-.13],[1788,-.2],[1794,-.12],[1736,-.25],[1742,-.33],[1748,-.25],[1754,-.4],[1760,-.33],[1765,-.33],[1770,-.33],[1775,-.33],[1780,-.4],[1786,-.33],[1792,-.38],[1800,-.33],[1745,-.45],[1752,-.42],[1758,-.47],[1764,-.42],[1770,-.45],[1778,-.5],[1785,-.5],[1790,-.45],[1740,-.57],[1757,-.63],[1765,-.62],[1770,-.66],[1775,-.55],[1785,-.55],[1772,-.78],[1786,-.78],[1788,-.73],[1795,-.5],
[1760,.33],[1765,.33],[1770,.33],[1775,.33],[1780,.33],[1785,.33],[1760,.2],[1768,.2],[1772,.25],[1780,.2],[1786,.23],[1792,.2],[1800,.17],[1765,.1],[1772,.13],[1780,.1],[1788,.08],[1770,.5],[1778,.5],[1785,.47],[1790,.4],[1775,.62],[1782,.6],[1786,.66],[1770,.75],[1780,.77],[1790,.78],[1797,.8],[1803,.73],[1765,.72],
[1807,.4],[1805,.3],[1800,-.55],[1808,-.34],[1816,-.33],[1822,.5],[1828,.5],[1833,.5],[1828,.65],[1828,.6],[1826,.33],[1822,.36],[1834,.3],[1825,.18],[1830,.12],[1833,.17],[1840,.15],[1821,.05],[1825,0],[1830,-.03],[1835,-.08],[1842,-.08],[1848,0],[1852,-.05],[1822,-.33],[1828,-.33],[1835,-.26],[1840,-.23],[1823,-.43],[1834,-.61],[1852,.5],[1858,.47],[1858,.55],[1864,.33],[1870,.3],[1850,.22],[1846,.12],[1855,.13],[1864,-.33],[1880,-.34],[1882,-.33],[1878,-.14],[1880,.01],[1883,.01],[1900,0],[1878,.08],[1880,.66],[1883,.66],[1878,.67],[1884,.6],[1888,.4],[1894,.38],[1875,.2],[1882,.2],
];
const franceSympathyDense: P[] = [
[1631,.2],[1632,.08],[1634,.28],[1635,.12],[1636,.18],[1637,.07],[1638,.33],[1639,.14],[1640,.02],[1641,.18],[1641,.28],[1643,.1],[1644,.27],[1645,.33],[1646,.12],[1647,.22],[1649,.02],[1650,.18],[1652,.13],[1653,.2],[1655,.05],[1656,.28],[1658,.12],[1659,.22],[1661,.1],[1662,.27],[1664,.05],[1631,-.06],[1632,-.22],[1634,-.15],[1635,-.25],[1636,-.3],[1637,-.15],[1638,-.05],[1639,-.35],[1640,-.12],[1640,-.25],[1641,-.42],[1642,-.22],[1643,-.05],[1644,-.28],[1645,-.13],[1646,-.4],[1647,-.2],[1648,-.28],[1649,-.45],[1650,-.05],[1651,-.3],[1652,-.15],[1653,-.42],[1654,-.22],[1655,-.45],[1656,-.1],[1657,-.27],[1658,-.42],[1659,-.18],[1660,-.33],[1661,-.5],[1662,-.12],[1663,-.28],[1664,-.08],[1665,-.33],[1667,-.18],[1668,-.05],[1670,-.28],[1673,-.22],[1634,-.42],[1636,-.45],[1638,-.5],[1642,-.5],[1646,-.55],[1650,-.46],[1654,-.52],[1658,-.55],[1634,.33],[1637,.4],[1648,.36],[1650,.42],[1655,.4],[1660,.44],[1668,.25],[1672,.2],[1676,.27],[1680,.14],[1682,-.05],[1684,-.2],[1686,-.05],[1688,.1],[1690,-.25],[1694,-.12],[1696,.25],[1700,.1],[1702,-.25],[1706,.2],[1708,-.2],
[1764,-.25],[1768,-.25],[1772,-.42],[1776,-.25],[1780,-.27],[1784,-.2],[1760,.06],[1768,.08],[1776,.1],[1782,.15],[1762,.44],[1766,.5],[1772,.42],[1776,.46],[1782,.38],[1767,.6],[1772,.66],[1778,.68],[1740,.38],[1746,.44],[1752,.4],[1745,.25],[1738,.22],[1750,.15],[1742,-.02],[1748,-.2],[1755,-.25],[1738,-.38],[1746,-.38],[1752,-.33],[1720,-.25],[1725,-.28],[1712,-.42],[1708,.15],
];

const franceProsocial: P[] = [
[1575,-.15],[1575,-.22],[1574,-.49],[1602,-.3],[1601,-.38],[1603,-.43],[1601,-.41],[1617,-.6],[1632,-.6],[1650,.44],[1661,-.63],[1672,-.63],[1696,-.72],[1733,-.6],[1740,-.6],[1772,-.77],[1772,-.72],[1787,-.82],[1900,-.67],[1767,.85],[1770,.8],[1770,.84],[1800,.81],[1788,.79],[1822,.85],[1827,.85],[1826,.8],[1832,.72],[1740,.7],
[1632,.28],[1635,.2],[1638,.12],[1641,.25],[1644,.15],[1647,.05],[1650,.2],[1653,.1],[1656,.3],[1659,.18],[1662,.05],[1665,.2],[1668,.26],[1671,.1],[1632,-.02],[1635,-.1],[1638,.02],[1641,-.08],[1644,.03],[1647,-.13],[1650,-.02],[1653,-.1],[1656,.03],[1659,-.05],[1662,-.12],[1665,-.02],[1668,-.08],[1671,-.15],[1674,-.02],[1677,.05],[1630,-.22],[1634,-.3],[1637,-.2],[1640,-.33],[1643,-.22],[1646,-.3],[1649,-.2],[1652,-.33],[1655,-.22],[1658,-.3],[1661,-.18],[1664,-.33],[1667,-.24],[1670,-.3],[1673,-.2],[1676,-.33],[1679,-.22],[1632,-.38],[1636,-.45],[1639,-.38],[1642,-.5],[1645,-.42],[1648,-.52],[1651,-.4],[1654,-.5],[1657,-.42],[1660,-.5],[1663,-.4],[1666,-.47],[1669,-.4],[1672,-.5],[1675,-.43],[1678,-.5],[1681,-.42],[1684,-.5],[1640,-.57],[1646,-.6],[1652,-.57],[1658,-.55],[1664,-.55],[1670,-.5],[1676,-.55],[1686,-.55],[1690,-.5],[1695,-.45],[1700,-.6],[1704,-.55],[1709,-.55],[1714,-.6],
[1680,.3],[1684,.37],[1688,.33],[1692,.4],[1695,.3],[1698,.4],[1702,.43],[1696,.5],[1702,.5],[1706,.5],[1698,.57],[1708,.6],[1682,.18],[1686,.24],[1690,.1],[1694,.2],[1698,.26],[1702,.12],[1706,.25],[1680,0],[1684,-.1],[1688,.05],[1692,-.05],[1696,-.15],[1700,.02],[1704,-.05],[1708,.05],[1712,.1],[1682,-.2],[1688,-.3],[1694,-.25],[1700,-.33],[1704,-.2],[1708,-.3],[1712,-.25],[1716,-.15],[1690,-.42],[1696,-.47],[1702,-.4],[1708,-.47],[1714,-.42],[1720,-.35],[1720,.2],[1716,.33],[1722,.12],[1726,.28],[1730,.35],[1735,.38],[1740,.3],[1745,.38],[1750,.33],[1724,.47],[1728,.56],[1733,.48],[1737,.56],[1742,.6],[1750,.5],[1755,.55],[1760,.57],[1752,.47],[1724,.0],[1728,.08],[1733,.15],[1738,.02],[1743,.08],[1748,.13],[1753,.05],[1758,.12],[1763,.05],[1724,-.12],[1729,-.2],[1734,-.1],[1739,-.2],[1744,-.12],[1749,-.25],[1754,-.15],[1759,-.1],[1764,-.22],[1725,-.33],[1730,-.38],[1735,-.3],[1740,-.37],[1745,-.42],[1750,-.33],[1755,-.43],[1760,-.3],[1765,-.37],[1742,-.5],[1752,-.5],
[1765,.3],[1768,.4],[1770,.33],[1773,.28],[1775,.38],[1778,.42],[1782,.3],[1785,.35],[1765,.2],[1770,.2],[1775,.22],[1780,.15],[1785,.2],[1790,.25],[1768,.1],[1772,.05],[1776,.12],[1780,.05],[1786,.08],[1790,.12],[1795,.1],[1768,.52],[1772,.5],[1776,.48],[1780,.52],[1768,.62],[1772,.6],[1778,.65],[1782,.63],[1785,.7],[1784,.72],[1790,.62],[1795,.58],[1800,.55],[1808,.58],[1798,.4],[1795,.35],[1788,.42],[1800,.35],[1800,.12],[1805,.1],[1767,-.05],[1772,-.12],[1776,-.02],[1780,-.15],[1785,-.08],[1790,-.15],[1795,-.12],[1767,-.27],[1772,-.33],[1776,-.22],[1780,-.3],[1785,-.25],[1790,-.33],[1795,-.3],[1800,-.25],[1805,-.32],[1768,-.42],[1772,-.5],[1776,-.48],[1782,-.42],[1787,-.5],[1792,-.4],[1798,-.38],[1768,-.6],[1772,-.55],[1776,-.6],[1765,-.65],[1770,-.55],
[1820,.56],[1825,.56],[1822,.47],[1828,.5],[1832,.5],[1825,.42],[1830,.38],[1838,.38],[1820,.33],[1822,.68],[1835,.12],[1830,.06],[1835,.05],[1822,0],[1830,0],[1835,-.03],[1828,-.15],[1834,-.16],[1835,-.23],[1822,-.2],[1826,-.37],[1832,-.44],[1838,-.44],[1842,-.38],[1830,-.4],[1818,-.38],[1845,-.08],[1850,-.13],[1853,-.2],[1855,-.12],[1860,-.18],[1850,-.26],[1863,-.33],[1865,-.33],[1860,-.45],[1847,.5],[1848,.65],[1858,.65],[1858,.38],[1845,.35],[1860,.32],[1850,.2],[1855,.2],[1862,.2],[1868,.21],[1875,.43],[1880,.45],[1882,.4],[1880,.6],[1884,.6],[1882,.66],[1890,.55],[1872,.08],[1880,.05],[1882,0],[1885,-.05],[1878,-.1],[1873,-.12],[1892,0],[1897,0],[1900,-.07],[1880,-.3],[1884,-.34],[1897,-.36],[1880,.1],
];
const franceProsocialDense: P[] = [
[1633,.12],[1634,.05],[1636,.15],[1637,.08],[1639,.2],[1640,-.02],[1642,.08],[1643,.2],[1645,-.06],[1646,.1],[1648,.22],[1649,.0],[1651,.12],[1652,-.05],[1654,.05],[1655,.15],[1657,-.08],[1658,.08],[1660,.22],[1661,-.02],[1663,.12],[1664,.25],[1666,.07],[1667,-.1],[1669,.05],[1670,.18],[1633,-.12],[1634,-.18],[1636,-.25],[1637,-.1],[1638,-.33],[1639,-.15],[1640,-.45],[1641,-.22],[1642,-.37],[1643,-.12],[1644,-.3],[1645,-.48],[1646,-.18],[1647,-.38],[1648,-.25],[1649,-.45],[1650,-.12],[1651,-.3],[1652,-.42],[1653,-.2],[1654,-.35],[1655,-.48],[1656,-.12],[1657,-.3],[1658,-.4],[1659,-.22],[1660,-.38],[1661,-.1],[1662,-.3],[1663,-.48],[1664,-.2],[1665,-.4],[1666,-.12],[1667,-.33],[1668,-.48],[1669,-.18],[1670,-.38],[1671,-.25],[1672,-.42],[1673,-.1],[1674,-.3],[1675,-.5],[1676,-.18],[1677,-.42],[1678,-.3],[1679,-.08],[1680,-.38],[1681,-.25],[1682,-.5],[1683,-.12],[1684,-.33],[1685,-.42],[1686,-.18],[1687,-.05],[1688,-.42],[1690,-.22],[1692,-.35],[1694,-.12],[1696,-.33],[1698,-.42],[1700,-.15],[1702,-.3],[1704,-.42],[1706,-.12],[1710,-.2],[1712,-.4],[1635,-.5],[1640,-.52],[1645,-.55],[1650,-.52],[1655,-.55],[1660,-.45],[1672,.25],[1676,.2],[1684,.08],[1688,.22],[1692,.12],[1696,.02],[1700,.18],
[1766,.4],[1767,.15],[1769,.28],[1770,.42],[1771,.12],[1772,.38],[1773,.18],[1774,.32],[1775,.5],[1776,.25],[1777,.4],[1778,.3],[1779,.18],[1780,.38],[1781,.25],[1782,.42],[1783,.12],[1784,.28],[1776,.6],[1774,.55],[1778,.55],[1768,-.15],[1769,-.35],[1770,-.25],[1771,.0],[1773,-.2],[1774,-.4],[1775,-.3],[1777,-.1],[1778,-.42],[1779,-.22],[1781,-.05],[1782,-.3],[1783,-.18],[1784,-.38],[1786,-.25],[1788,-.1],[1790,-.42],[1755,-.25],[1748,-.1],[1740,.08],[1735,-.2],[1730,.02],[1757,.3],[1748,.25],[1735,.25],[1758,-.3],[1745,-.25],
];

const bandLabels = ["upper", "lower"];

const panels = [
  { data: [...englandTrust, ...englandTrustDense], label: "Trust/Strength ratio", xTicks: englandYearTicks, color: "#C44E52", line: "#ff0000", lineY: [-0.63, -0.17], band: [0.03, 0.012, 0.035], left: -1, top: 14, axisX: 52.3, topY: 34.3, start: 59.5, end: 238, x0: 86.5, x1: 227, y0: 1600, y1: 1800 },
  { data: [...englandSympathy, ...englandSympathyDense], label: "Sympathy/Anger ratio", xTicks: englandYearTicks, color: "#C44E52", line: "#ff0000", lineY: [-0.08, 0.3], band: [0.035, 0.015, 0.04], left: 259, top: 14, axisX: 313.3, topY: 34.3, start: 320, end: 499, x0: 347.3, x1: 488.3, y0: 1600, y1: 1800 },
  { data: [...englandProsocial, ...englandProsocialDense], label: "Prosociality/Authority ratio", xTicks: englandYearTicks, color: "#C44E52", line: "#ff0000", lineY: [-0.32, -0.095], band: [0.02, 0.01, 0.02], left: 514, top: 14, axisX: 567.7, topY: 34.3, start: 574.7, end: 759.7, x0: 602.7, x1: 748.3, y0: 1600, y1: 1800 },
  { data: [...franceTrust, ...franceTrustDense], label: "Trust/Strength ratio", xTicks: franceYearTicks, color: "#4C72B0", line: "#0000ff", lineY: [-0.567, 0.155], band: [0.06, 0.02, 0.08], left: -1, top: 304, axisX: 52.3, topY: 324.7, start: 59.3, end: 237, x0: 82, x1: 227, y0: 1600, y1: 1900 },
  { data: [...franceSympathy, ...franceSympathyDense], label: "Sympathy/Anger ratio", xTicks: franceYearTicks, color: "#4C72B0", line: "#0000ff", lineY: [-0.17, 0.285], band: [0.06, 0.02, 0.07], left: 259, top: 304, axisX: 313.3, topY: 324.7, start: 320, end: 499, x0: 343, x1: 488.7, y0: 1600, y1: 1900 },
  { data: [...franceProsocial, ...franceProsocialDense], label: "Prosociality/Authority ratio", xTicks: franceYearTicks, color: "#4C72B0", line: "#0000ff", lineY: [-0.35, 0.278], band: [0.04, 0.018, 0.07], left: 521, top: 304, axisX: 574.3, topY: 324.7, start: 581.3, end: 759.7, x0: 604, x1: 749.3, y0: 1600, y1: 1900 },
];

const FONT = "'Liberation Sans', Arial, sans-serif";
const INK = "#262626";
const AXIS = "#4d4d4d";

const fmtY = (v: number) => (v < 0 ? "\u2212" : "") + Math.abs(v).toFixed(2);

function Panel({ p }: { p: (typeof panels)[number] }) {
  const ref = useRef<HTMLCanvasElement>(null);
  const W = 254, H = 262;
  useEffect(() => {
    const pxPerYear = (p.x1 - p.x0) / (p.y1 - p.y0);
    const yearAt = (px: number) => p.y0 + (px - p.x0) / pxPerYear;
    const startYear = yearAt(p.start), endYear = yearAt(p.end), minYear = yearAt(p.axisX);
    const midYear = (startYear + endYear) / 2;
    const midVal = (p.lineY[0] + p.lineY[1]) / 2;
    const years = [startYear, midYear, endYear];
    const mids = [p.lineY[0], midVal, p.lineY[1]];
    const up = years.map((x, i) => ({ x, y: mids[i] + p.band[i] }));
    const lo = years.map((x, i) => ({ x, y: mids[i] - p.band[i] }));
    const axisLines = {
      id: "axisLines",
      afterDatasetsDraw(c: any) {
        const g = c.ctx, xs = c.scales.x, ys = c.scales.y;
        g.save();
        g.strokeStyle = AXIS;
        g.lineWidth = 1.25;
        g.beginPath();
        g.moveTo(xs.getPixelForValue(startYear), xs.top);
        g.lineTo(c.chartArea.right, xs.top);
        g.moveTo(ys.right, ys.getPixelForValue(1) - 0.6);
        g.lineTo(ys.right, ys.getPixelForValue(-1) + 0.6);
        g.stroke();
        g.restore();
      },
    };
    const chart = new Chart(ref.current!, {
      type: "scatter",
      plugins: [axisLines],
      data: {
        datasets: [
          { type: "line", label: "fit", data: [{ x: startYear, y: p.lineY[0] }, { x: endYear, y: p.lineY[1] }], borderColor: p.line, borderWidth: 2, pointRadius: 0, order: 0 },
          { type: "line", label: bandLabels[0], data: up, borderWidth: 0, borderColor: "transparent", pointRadius: 0, fill: "+1", backgroundColor: p.line + "26", order: 1 },
          { type: "line", label: bandLabels[1], data: lo, borderWidth: 0, borderColor: "transparent", pointRadius: 0, fill: false, order: 1 },
          { label: p.label, data: p.data.map(([x, y]) => ({ x, y })), backgroundColor: p.color + "8c", borderWidth: 0, pointRadius: 2.9, order: 2 },
        ],
      } as any,
      options: {
        animation: false,
        responsive: false,
        layout: { padding: { top: p.topY - p.top, right: p.left + W - p.end, left: 0, bottom: 0 } },
        plugins: { legend: { display: false }, tooltip: { enabled: false } },
        scales: {
          x: {
            type: "linear", min: minYear, max: endYear,
            afterBuildTicks: (s: any) => { s.ticks = p.xTicks.map((value) => ({ value })); },
            afterFit: (s: any) => { s.height = p.top + H - (p.top === 14 ? 240 : 530.3); },
            grid: { drawOnChartArea: false, drawTicks: true, tickLength: 4, color: AXIS, lineWidth: 1.25 },
            border: { display: false },
            ticks: { color: INK, font: { family: FONT, size: 11.5 }, padding: 2, maxRotation: 0, callback: (v: any) => String(v) },
            title: { display: true, text: "Time (Years)", color: INK, font: { family: FONT, size: 13 }, padding: 0 },
          },
          y: {
            type: "linear", min: -1.0705, max: 1,
            afterBuildTicks: (s: any) => { s.ticks = yTickValues.map((value) => ({ value })); },
            afterFit: (s: any) => { s.width = p.axisX - p.left; },
            grid: { drawOnChartArea: false, drawTicks: true, tickLength: 5, color: AXIS, lineWidth: 1.25 },
            border: { display: false },
            ticks: { color: INK, font: { family: FONT, size: 11.5 }, padding: 1, callback: (v: any) => fmtY(Number(v)) },
            title: { display: true, text: p.label, color: INK, font: { family: FONT, size: 13.2 }, padding: 0 },
          },
        },
      },
    } as any);
    return () => chart.destroy();
  }, []);
  return <canvas ref={ref} width={W} height={H} style={{ position: "absolute", left: p.left, top: p.top, width: W, height: H, display: "block" }} />;
}

const headStyle: React.CSSProperties = { position: "absolute", width: 200, left: 309, textAlign: "center", fontFamily: FONT, fontSize: 21.8, lineHeight: "26px", color: "#000" };

export default function App() {
  return (
    <div style={{ position: "absolute", left: 0, top: 0, width: 762, height: 564, overflow: "hidden", background: "#fff" }}>
      {panels.map((p, i) => <Panel key={i} p={p} />)}
      <div style={{ ...headStyle, top: -3 }}>England</div>
      <div style={{ ...headStyle, top: 291 }}>France</div>
    </div>
  );
}
